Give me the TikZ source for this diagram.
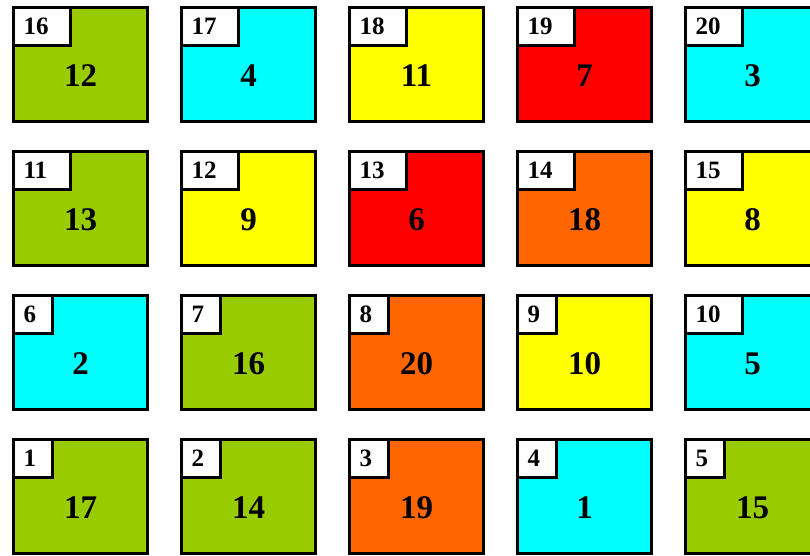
\documentclass[tikz,border=0pt]{standalone}
\usepackage{fontspec}
\setmainfont{Liberation Serif}
\usepackage{xcolor}
\definecolor{cgreen}{HTML}{99CC00}
\definecolor{ccyan}{HTML}{00FFFF}
\definecolor{cyell}{HTML}{FFFF00}
\definecolor{cred}{HTML}{FF0000}
\definecolor{corange}{HTML}{FF6600}

\begin{document}
\begin{tikzpicture}[x=1pt,y=-1pt,
    cell/.style={draw, line width=3pt, minimum width=134pt, minimum height=114pt,
      anchor=north west, inner sep=0pt},
    tag/.style={draw, fill=white, line width=3pt, minimum height=38pt,
      inner xsep=10pt, inner ysep=0pt, align=left, anchor=north west,
      font=\fontsize{25}{25}\selectfont\bfseries},
    val/.style={font=\fontsize{33}{33}\selectfont\bfseries}]
   \useasboundingbox (0,0) rectangle (810,556);
   \clip (0,0) rectangle (810,556);
   \foreach \n/\v/\c in {1/17/cgreen, 2/14/cgreen, 3/19/corange, 4/1/ccyan, 5/15/cgreen,
                         6/2/ccyan, 7/16/cgreen, 8/20/corange, 9/10/cyell, 10/5/ccyan,
                         11/13/cgreen, 12/9/cyell, 13/6/cred, 14/18/corange, 15/8/cyell,
                         16/12/cgreen, 17/4/ccyan, 18/11/cyell, 19/7/cred, 20/3/ccyan} {
      \pgfmathtruncatemacro\col{mod(\n-1,5)}
      \pgfmathtruncatemacro\row{3-floor((\n-1)/5)}
      \pgfmathsetmacro\tw{\n<10 ? 19 : 37}
      \node[cell, fill=\c] (c\n) at (12+168*\col, 6+144*\row) {};
      \node[tag, text width=\tw pt] (t\n) at (c\n.north west) {\n};
      \node[val] (v\n) at ([yshift=-11pt]c\n.center) {\v};
   }
\end{tikzpicture}
\end{document}
